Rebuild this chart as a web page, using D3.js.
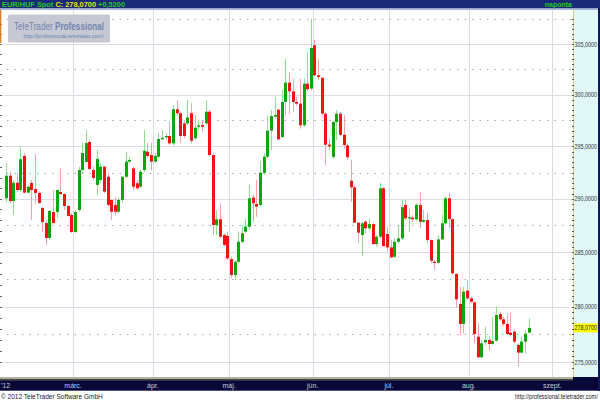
<!DOCTYPE html>
<html><head><meta charset="utf-8">
<script src="https://cdn.jsdelivr.net/npm/d3@7"></script>
<style>body{margin:0;background:#fff}svg{display:block}</style>
</head><body><svg id="c" width="600" height="400"></svg>
<script>
const openV=[290.06,292.20,289.80,291.53,290.84,294.08,290.59,291.51,290.93,290.56,289.14,287.73,286.33,288.76,288.76,290.65,290.46,289.33,288.48,286.89,
288.95,292.74,293.51,295.42,292.74,291.32,291.79,293.06,292.10,289.90,289.43,288.79,289.90,292.10,293.54,292.90,291.48,291.15,292.74,294.49,
294.17,293.54,294.01,295.71,295.87,296.00,295.29,298.59,298.20,297.22,297.22,298.20,295.78,296.89,297.06,297.22,298.35,294.17,287.55,288.08,
286.61,286.52,284.37,282.90,284.12,285.98,286.92,287.39,290.12,289.52,289.43,292.48,294.01,296.51,297.87,298.55,295.90,299.30,301.19,300.34,
299.30,299.13,297.03,301.09,300.60,304.87,301.91,301.67,298.16,295.16,293.99,297.35,298.16,296.12,295.10,291.72,291.09,287.76,286.61,287.85,
287.24,287.63,285.77,286.45,291.00,286.70,285.46,284.59,285.98,286.30,289.43,288.17,288.23,288.08,289.43,287.85,288.01,286.14,284.12,284.03,
286.20,287.70,290.06,288.10,283.00,280.25,278.43,281.46,280.76,280.40,277.28,275.43,276.77,276.98,276.62,276.92,279.33,278.85,278.43,277.64,
277.73,276.53,275.84,276.83,277.64];
const highV=[293.41,292.58,291.79,292.46,295.03,294.36,291.31,291.79,294.27,290.68,289.24,288.01,288.95,290.84,290.90,292.90,290.53,289.43,288.67,288.95,
293.06,295.32,296.58,295.61,293.06,294.65,293.41,293.13,292.46,289.90,290.21,290.09,292.17,294.49,294.01,293.06,291.79,292.74,296.58,295.32,
295.35,294.36,296.26,296.58,296.29,297.38,299.00,299.49,298.35,297.54,299.49,299.17,298.03,297.54,297.54,299.49,298.52,294.33,288.95,289.59,
286.77,286.92,284.59,284.28,286.92,287.55,288.17,291.32,290.37,291.79,293.54,294.33,298.03,298.52,299.78,298.65,300.44,303.54,302.23,301.58,
299.78,301.58,301.58,304.20,307.52,305.37,303.54,301.74,298.33,295.74,297.51,298.49,298.33,298.00,295.32,293.70,291.32,287.85,287.85,288.01,
288.17,287.70,286.61,291.53,291.15,287.33,286.14,286.30,287.55,289.90,289.90,289.11,288.48,289.59,290.68,288.95,288.64,286.20,284.28,286.61,
288.48,290.21,290.59,288.17,283.06,281.82,281.82,282.44,280.91,280.45,278.49,276.98,278.18,277.28,279.09,280.00,279.55,279.09,279.40,279.46,
277.88,276.68,277.28,277.88,278.94];
const lowV=[289.71,289.62,288.48,290.65,290.65,290.53,290.53,288.01,289.52,289.52,286.89,285.68,286.14,287.70,288.20,290.37,288.95,288.32,286.80,286.80,
288.79,292.46,293.41,292.74,291.79,290.37,291.51,290.53,289.33,288.01,288.48,288.67,289.62,291.98,293.41,290.84,290.84,291.03,292.55,293.89,
292.74,293.41,293.86,295.61,295.61,295.13,295.13,298.00,295.35,295.81,297.06,295.29,295.61,296.58,296.42,297.06,294.08,286.61,286.61,286.30,
285.52,284.28,282.60,282.44,283.97,285.83,286.77,287.23,287.85,288.32,289.27,292.27,293.86,294.65,297.70,295.58,295.81,298.03,298.16,298.33,
298.95,296.71,296.87,300.37,300.44,301.84,301.45,298.03,293.22,294.65,293.83,295.58,296.00,294.78,293.70,289.74,287.73,285.86,284.65,286.77,
287.08,285.68,285.52,286.30,285.52,285.05,284.44,284.47,285.83,286.14,288.01,286.92,287.82,287.92,287.24,287.73,285.83,283.97,283.36,283.97,
286.14,287.55,287.24,282.90,279.91,277.43,277.58,280.61,280.31,276.68,275.34,275.34,276.53,276.02,276.53,276.83,278.70,278.25,277.43,277.28,
276.68,274.59,275.78,275.78,277.58];
const closeV=[292.20,289.80,291.53,290.84,293.77,290.59,291.15,290.84,290.56,289.62,287.82,286.33,288.86,287.73,290.84,290.46,289.33,288.39,286.89,288.76,
292.74,294.36,295.32,292.84,291.98,293.80,293.06,290.68,289.43,288.79,288.79,289.90,292.10,293.54,293.70,291.15,291.00,292.58,294.58,294.08,
293.54,294.08,295.71,295.81,296.00,295.29,298.59,298.20,296.00,296.00,297.80,295.54,296.80,297.03,296.89,298.35,294.17,287.55,288.08,286.45,
285.68,284.44,282.90,284.12,285.98,286.77,287.39,290.06,289.59,289.27,292.48,294.01,296.51,297.93,298.03,295.68,299.30,301.19,300.34,299.30,
299.13,297.03,301.09,300.54,304.60,301.91,301.74,298.16,295.16,295.00,297.35,298.16,296.12,295.13,293.96,291.09,287.76,286.83,287.70,287.24,
287.63,285.77,286.45,291.00,285.58,285.46,284.53,285.98,286.30,289.21,288.17,288.27,288.08,289.43,287.85,288.01,286.14,284.22,284.03,286.20,
287.70,290.06,288.10,283.06,280.67,278.43,281.37,280.76,280.45,277.52,275.43,276.68,276.98,276.62,276.89,279.24,278.85,278.43,277.52,277.43,
276.83,275.84,276.83,277.55,278.07];
const monthLabels=["'12","márc.","ápr.","máj.","jún.","júl.","aug.","szept."];
const monthStarts=[0,19,41,62,85,106,128,151];
const yTicks=[275,280,285,290,295,300,305];
const yMinor=[277.5,282.5,287.5,292.5,297.5,302.5,307.5];
const lastClose=278.07, change=0.52;
const slots=157;

const svg=d3.select("#c");
const fmt=v=>v.toFixed(4).replace(".",",");
const x=d3.scaleBand().domain(d3.range(slots)).range([4.1,4.1+slots*3.63]);
const y=d3.scaleLog().domain([275,305]).range([362,44]);
const L=3,R=573,T=10,B=377;
const FONT="Liberation Sans, Arial, sans-serif";

// squeeze a text (anchored at its start) horizontally to a target width
function fitText(parent, px, py, width, build){
  const gg=parent.append("g");
  const t=gg.append("text").attr("x",0).attr("y",0);
  build(t);
  const w=t.node().getComputedTextLength();
  const s=Math.min(1,width/w);
  gg.attr("transform",`translate(${px},${py}) scale(${s},1)`);
  return t;
}

svg.append("rect").attr("x",0).attr("y",0).attr("width",600).attr("height",400).attr("fill","#fff");
svg.append("rect").attr("x",R).attr("y",T-1).attr("width",25).attr("height",B-T+1).attr("fill","#e0f8f8");

const g=svg.append("g");
g.selectAll(".vg").data(monthStarts.slice(1)).join("line")
 .attr("x1",d=>Math.round(x(d))+0.5).attr("x2",d=>Math.round(x(d))+0.5)
 .attr("y1",T).attr("y2",B).attr("stroke","#dcdce6").attr("stroke-width",1);
g.selectAll(".hg").data(yTicks).join("line")
 .attr("x1",L).attr("x2",R).attr("y1",d=>Math.round(y(d))+0.5).attr("y2",d=>Math.round(y(d))+0.5)
 .attr("stroke","#dcdce6");
g.selectAll(".hm").data(yMinor).join("line")
 .attr("x1",L+4).attr("x2",R).attr("y1",d=>Math.round(y(d))+0.5).attr("y2",d=>Math.round(y(d))+0.5)
 .attr("stroke","#a8a8b0").attr("stroke-dasharray","1.5,6");

const data=openV.map((o,i)=>({i,o,h:highV[i],l:lowV[i],c:closeV[i]}));
const cx=d=>Math.round(x(d.i)+x.bandwidth()/2);
const cg=svg.append("g");
cg.selectAll(".wick").data(data).join("line")
 .attr("x1",d=>cx(d)+0.5).attr("x2",d=>cx(d)+0.5)
 .attr("y1",d=>y(d.h)).attr("y2",d=>y(d.l))
 .attr("stroke",d=>d.c>=d.o?"#8ee08e":"#f4a2aa").attr("stroke-width",1);
cg.selectAll(".body").data(data).join("rect")
 .attr("x",d=>cx(d)-1).attr("width",3)
 .attr("y",d=>y(Math.max(d.o,d.c)))
 .attr("height",d=>Math.max(1.2,Math.abs(y(d.o)-y(d.c))))
 .attr("fill",d=>d.c>=d.o?"#0ea50e":"#f01414");

// right axis
svg.append("line").attr("x1",R+0.5).attr("x2",R+0.5).attr("y1",T-1).attr("y2",B).attr("stroke","#d4cc80");
svg.selectAll(".rt").data(d3.range(274.5,308,0.5)).join("line")
 .attr("x1",R-1).attr("x2",R+1).attr("y1",d=>Math.round(y(d))+0.5).attr("y2",d=>Math.round(y(d))+0.5)
 .attr("stroke","#555").attr("stroke-width",1);
svg.selectAll(".lt").data(d3.range(275,308,1)).join("line")
 .attr("x1",0).attr("x2",2).attr("y1",d=>Math.round(y(d))+0.5).attr("y2",d=>Math.round(y(d))+0.5)
 .attr("stroke","#666");
const axG=svg.append("g");
yTicks.forEach(v=>{
  fitText(axG,R+1.5,y(v)+2.5,22.5,t=>t.attr("font-family",FONT).attr("font-size",7).attr("fill","#333").text(fmt(v)));
});
svg.append("rect").attr("x",R+1).attr("y",y(lastClose)-4.5).attr("width",24.5).attr("height",9).attr("fill","#ffff00");
fitText(svg,R+1.5,y(lastClose)+2.5,22.5,t=>t.attr("font-family",FONT).attr("font-size",7).attr("fill","#222").text(fmt(lastClose)));

svg.append("rect").attr("x",598).attr("y",0).attr("width",2).attr("height",391).attr("fill","#101a50");

// header
svg.append("rect").attr("x",0).attr("y",0).attr("width",600).attr("height",8.5).attr("fill","#1b2a78");
svg.append("rect").attr("x",0).attr("y",8.5).attr("width",598).attr("height",1.5).attr("fill","#a8b4e0");
const ht=svg.append("text").attr("x",2).attr("y",7.2)
 .attr("font-family",FONT).attr("font-size",7.4).attr("font-weight","bold");
ht.append("tspan").attr("fill","#22c822").text("EUR/HUF Spot ");
ht.append("tspan").attr("fill","#e6e600").text("C: "+fmt(lastClose)+" ");
ht.append("tspan").attr("fill","#22c822").text("+"+fmt(change));
svg.append("text").attr("x",572).attr("y",7.2).attr("text-anchor","end")
 .attr("font-family",FONT).attr("font-size",7).attr("font-weight","bold")
 .attr("fill","#22c822").text("naponta");
svg.append("rect").attr("x",0).attr("y",10).attr("width",1.3).attr("height",33).attr("fill","#e07a18");

// logo
svg.append("rect").attr("x",8).attr("y",14.5).attr("width",102).attr("height",28).attr("rx",1.5).attr("fill","#c6c9d4");
fitText(svg,14,29.5,90,t=>{
  t.attr("font-family",FONT).attr("font-size",11.5).attr("fill","#7484ae");
  t.append("tspan").text("TeleTrader ");
  t.append("tspan").attr("font-weight","bold").text("Professional");
});
fitText(svg,23.5,38,80,t=>t.attr("font-family",FONT).attr("font-size",6.2).attr("fill","#7080aa")
 .text("http://professional.teletrader.com/"));

// bottom band
svg.append("rect").attr("x",0).attr("y",B).attr("width",598).attr("height",2).attr("fill","#b0b0a8");
svg.append("rect").attr("x",0).attr("y",B+2).attr("width",598).attr("height",1.2).attr("fill","#4a4a2a");
svg.append("rect").attr("x",0).attr("y",B+3.2).attr("width",598).attr("height",10.5).attr("fill","#070838");
svg.append("rect").attr("x",R).attr("y",B).attr("width",25).attr("height",4).attr("fill","#070838");
svg.selectAll(".ml").data(monthStarts).join("text")
 .attr("x",(d,i)=>i===0?1:x(d)).attr("y",388)
 .attr("text-anchor",(d,i)=>i===0?"start":"middle")
 .attr("font-family",FONT).attr("font-size",7)
 .attr("fill","#c8c8dc").text((d,i)=>monthLabels[i]);

// footer
fitText(svg,1,398.5,102,t=>t.attr("font-family",FONT).attr("font-size",7.3).attr("fill","#222")
 .text("© 2012 TeleTrader Software GmbH"));
fitText(svg,515,398.5,83,t=>t.attr("font-family",FONT).attr("font-size",6.3).attr("fill","#222")
 .text("http://professional.teletrader.com/"));
</script></body></html>
